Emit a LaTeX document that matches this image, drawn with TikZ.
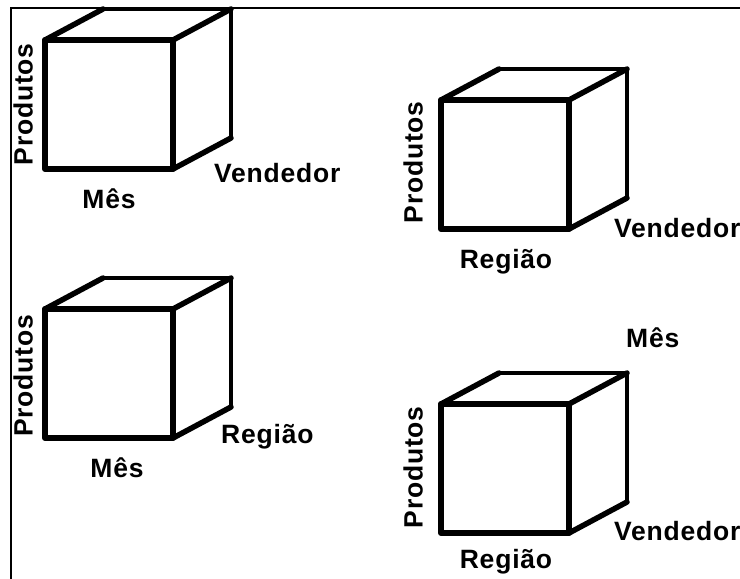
\documentclass[tikz,border=0pt]{standalone}
\usepackage{fontspec}
\setmainfont{Liberation Sans}
\newfontfamily\rotulofont[LetterSpace=3]{Liberation Sans}
\begin{document}
\begin{tikzpicture}[x=1pt,y=-1pt,
  moldura/.style={line width=2.4pt, line cap=rect},
  frente/.style={line width=6pt, line join=round, line cap=round},
  aresta/.style={line width=5.5pt, line join=round, line cap=round},
  fundo/.style={line width=4.5pt, line join=round, line cap=round},
  rotulo/.style={inner sep=0pt, font=\rotulofont\bfseries\fontsize{26.5}{26.5}\selectfont},
  cubo/.pic={
    % front face
    \draw[frente] (0,0) rectangle (128,129);
    % receding edges
    \draw[aresta] (0,0) -- (58,-31);
    \draw[aresta] (128,0) -- (186,-31);
    \draw[aresta] (128,129) -- (186,98);
    % back edges
    \draw[fundo] (58,-31) -- (186,-31) -- (186,98);
  }]
\useasboundingbox (0,0) rectangle (740,579);
\fill[white] (0,0) rectangle (740,579);

% frame (top and left sides)
\draw[moldura] (11,579) -- (11,8) -- (740,8);

% cube 1: Produtos x Mes x Vendedor
\pic at (45,40) {cubo};
\node[rotulo, rotate=90, anchor=base] (p1) at (32.5,104.5) {Produtos};
\node[rotulo, anchor=base] (m1) at (109,208) {Mês};
\node[rotulo, anchor=base west] (v1) at (214,182) {Vendedor};

% cube 2: Produtos x Regiao x Vendedor
\pic at (441,100) {cubo};
\node[rotulo, rotate=90, anchor=base] (p2) at (422.5,162.5) {Produtos};
\node[rotulo, anchor=base] (r2) at (506,268) {Região};
\node[rotulo, anchor=base west] (v2) at (614,237) {Vendedor};

% cube 3: Produtos x Mes x Regiao
\pic at (45,309) {cubo};
\node[rotulo, rotate=90, anchor=base] (p3) at (32.5,376) {Produtos};
\node[rotulo, anchor=base] (m3) at (117,477) {Mês};
\node[rotulo, anchor=base west] (r3) at (221,443) {Região};

% cube 4: Produtos x Regiao x Vendedor x Mes
\pic at (441,404) {cubo};
\node[rotulo, rotate=90, anchor=base] (p4) at (422.5,467.5) {Produtos};
\node[rotulo, anchor=base west] (m4) at (626,347) {Mês};
\node[rotulo, anchor=base west] (v4) at (614,540) {Vendedor};
\node[rotulo, anchor=base] (r4) at (506,568) {Região};
\end{tikzpicture}
\end{document}
